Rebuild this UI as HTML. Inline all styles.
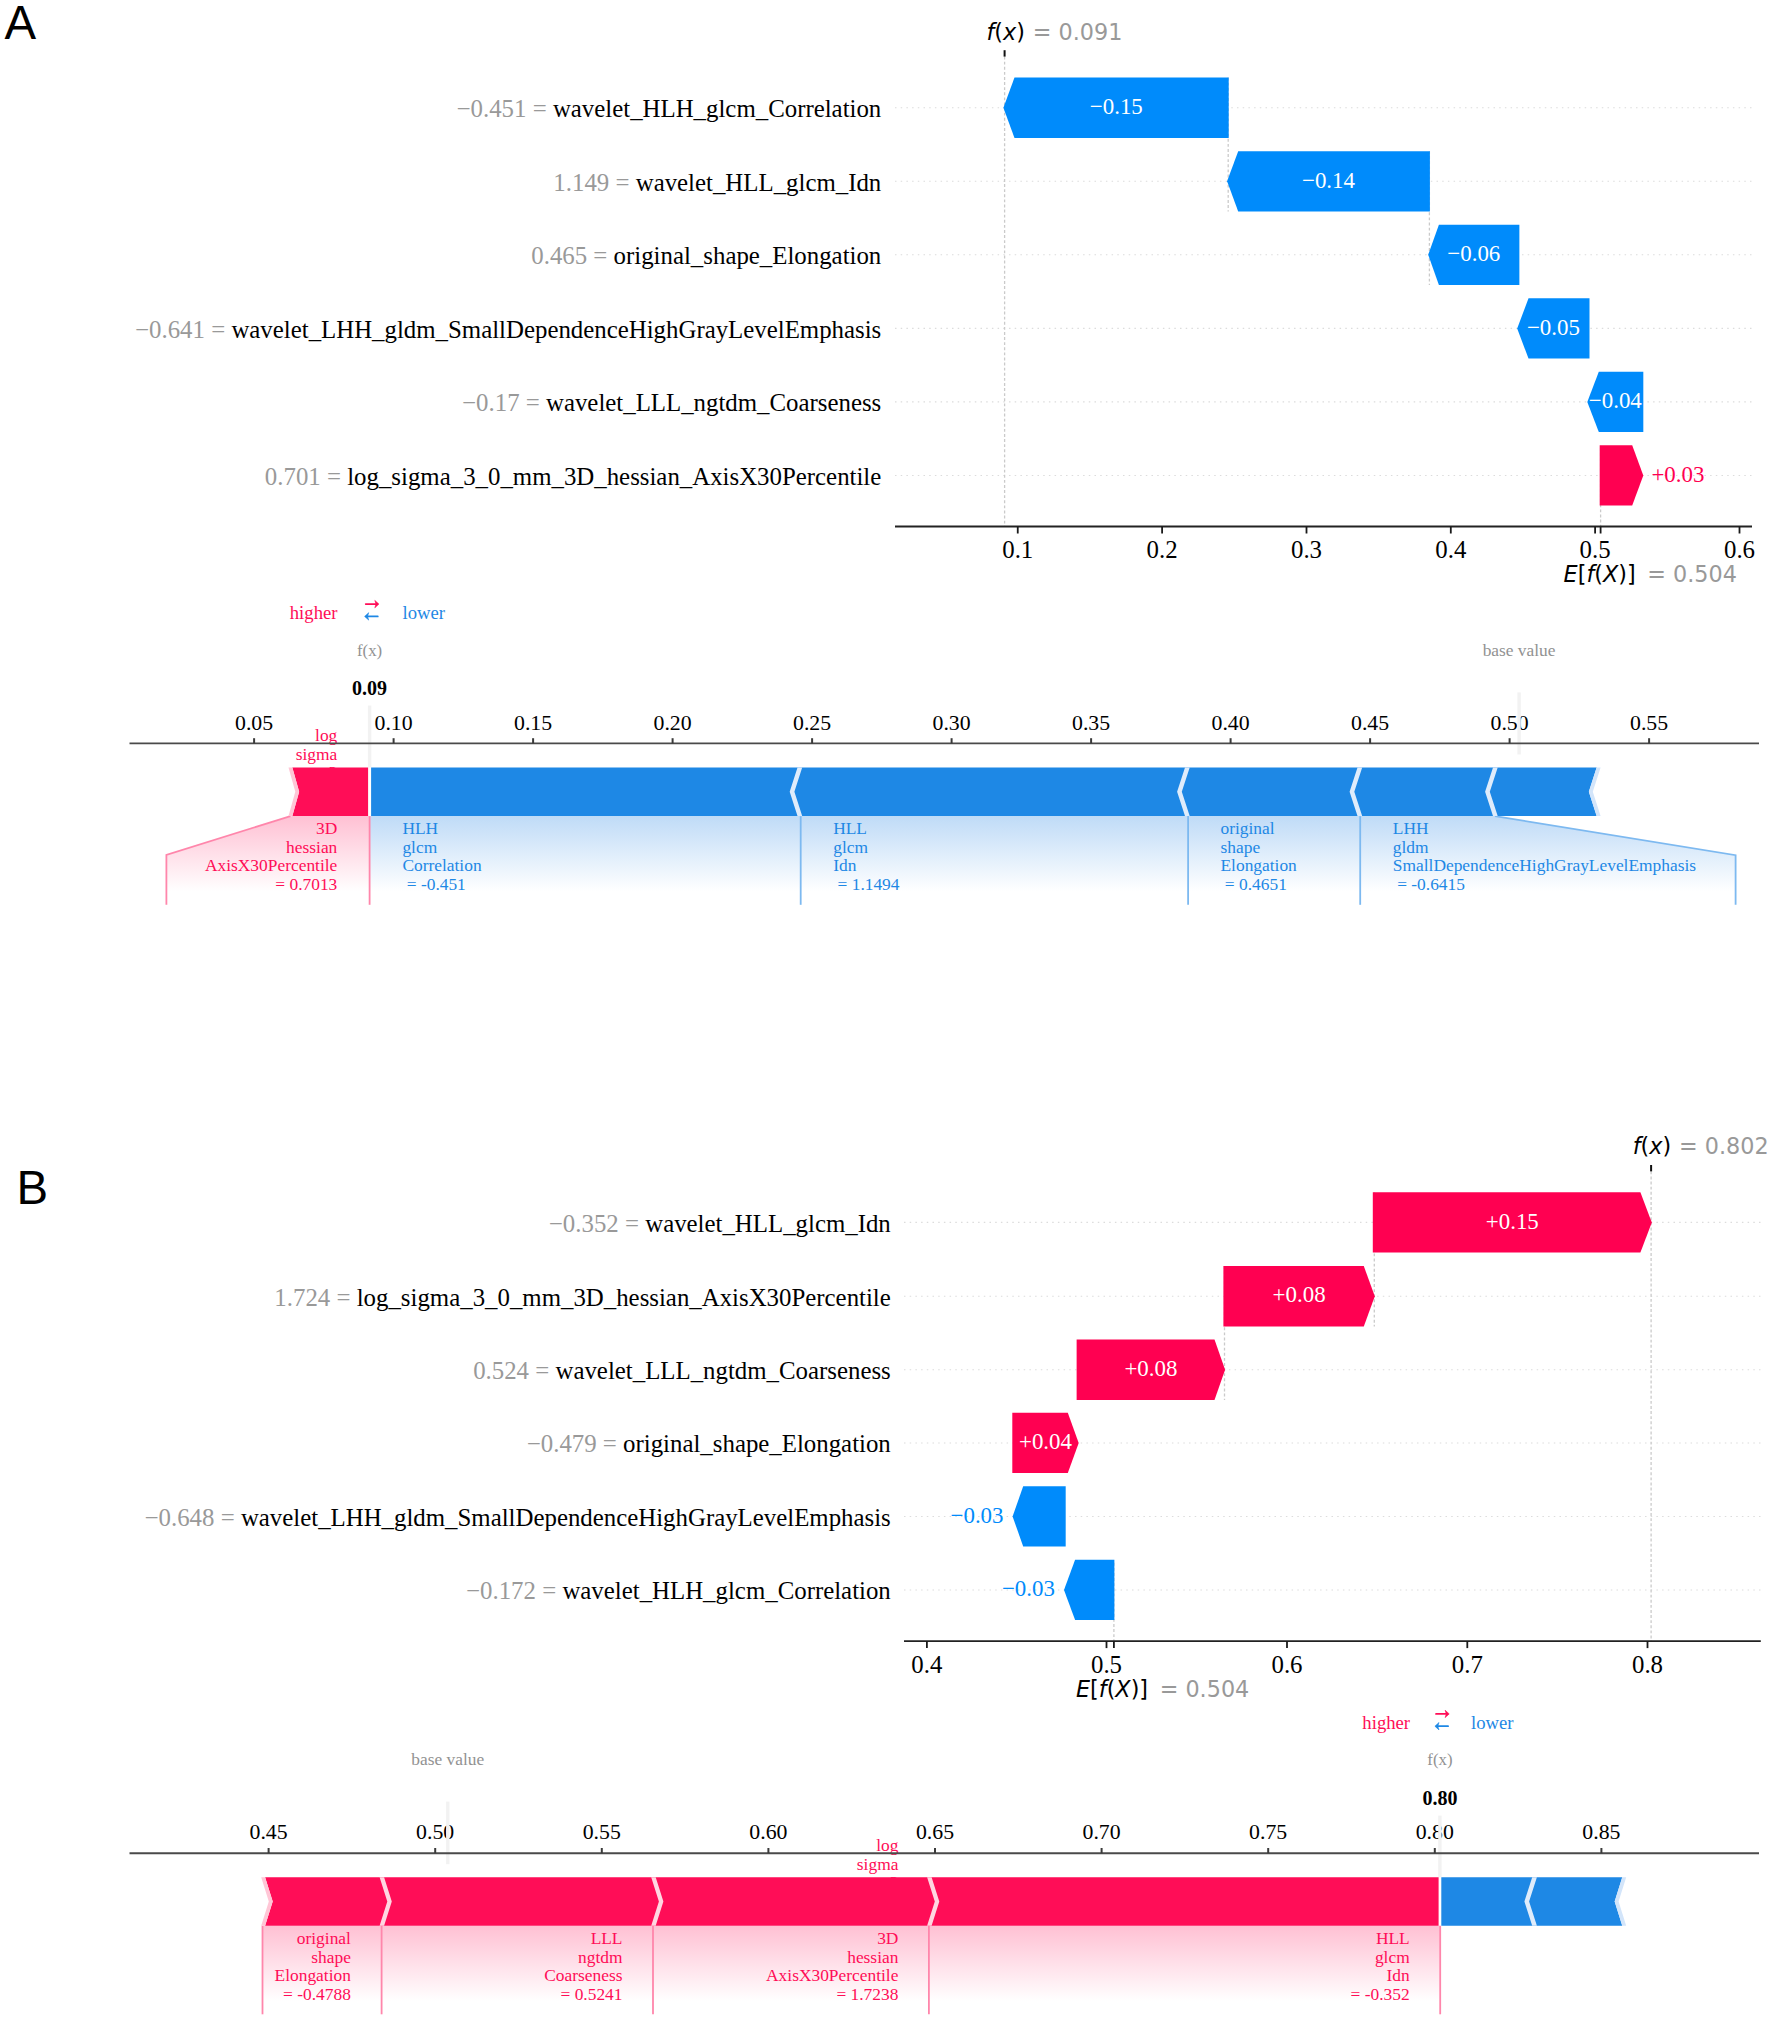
<!DOCTYPE html>
<html lang="en"><head><meta charset="utf-8"><title>SHAP waterfall and force plots</title>
<style>html,body{margin:0;padding:0;background:#fff}svg{display:block}</style></head><body>
<svg width="1772" height="2022" viewBox="0 0 1772 2022" font-family="'Liberation Serif', 'Times New Roman', serif">
<rect width="1772" height="2022" fill="#fff"/>
<text x="4.6" y="38.9" font-size="47.4" fill="#000" font-family="'Liberation Sans', Arial, sans-serif">A</text>
<text x="16.5" y="1203.8" font-size="47.4" fill="#000" font-family="'Liberation Sans', Arial, sans-serif">B</text>
<g id="waterfall-a">
<line x1="895" y1="107.75" x2="1752" y2="107.75" stroke="#dcdcdc" stroke-width="1.1" stroke-dasharray="1.5 4.2"/>
<line x1="895" y1="181.3" x2="1752" y2="181.3" stroke="#dcdcdc" stroke-width="1.1" stroke-dasharray="1.5 4.2"/>
<line x1="895" y1="254.8" x2="1752" y2="254.8" stroke="#dcdcdc" stroke-width="1.1" stroke-dasharray="1.5 4.2"/>
<line x1="895" y1="328.4" x2="1752" y2="328.4" stroke="#dcdcdc" stroke-width="1.1" stroke-dasharray="1.5 4.2"/>
<line x1="895" y1="401.9" x2="1752" y2="401.9" stroke="#dcdcdc" stroke-width="1.1" stroke-dasharray="1.5 4.2"/>
<line x1="895" y1="475.45" x2="1752" y2="475.45" stroke="#dcdcdc" stroke-width="1.1" stroke-dasharray="1.5 4.2"/>
<line x1="1004.6" y1="56.6" x2="1004.6" y2="526.5" stroke="#cacaca" stroke-width="1.3" stroke-dasharray="2.9 2.2"/>
<line x1="1600.6" y1="448.18" x2="1600.6" y2="526.5" stroke="#cacaca" stroke-width="1.3" stroke-dasharray="2.9 2.2"/>
<line x1="1228.2" y1="77.6" x2="1228.2" y2="211.45" stroke="#cacaca" stroke-width="1.3" stroke-dasharray="2.9 2.2"/>
<line x1="1429.4" y1="151.15" x2="1429.4" y2="284.95" stroke="#cacaca" stroke-width="1.3" stroke-dasharray="2.9 2.2"/>
<polygon points="1003.4,107.75 1014.5,77.6 1228.7,77.6 1228.7,137.9 1014.5,137.9" fill="#008BFB"/>
<text x="1116.3" y="113.95" font-size="22.9" fill="#fff" text-anchor="middle">−0.15</text>
<text x="881.3" y="117.05" font-size="24.85" fill="#000" text-anchor="end"><tspan fill="#999999">−0.451 = </tspan>wavelet_HLH_glcm_Correlation</text>
<polygon points="1227.1,181.3 1238.2,151.15 1429.9,151.15 1429.9,211.45 1238.2,211.45" fill="#008BFB"/>
<text x="1328.5" y="187.5" font-size="22.9" fill="#fff" text-anchor="middle">−0.14</text>
<text x="881.3" y="190.6" font-size="24.85" fill="#000" text-anchor="end"><tspan fill="#999999">1.149 = </tspan>wavelet_HLL_glcm_Idn</text>
<polygon points="1428.2,254.8 1438.9,224.65 1519.4,224.65 1519.4,284.95 1438.9,284.95" fill="#008BFB"/>
<text x="1473.8" y="261" font-size="22.9" fill="#fff" text-anchor="middle">−0.06</text>
<text x="881.3" y="264.1" font-size="24.85" fill="#000" text-anchor="end"><tspan fill="#999999">0.465 = </tspan>original_shape_Elongation</text>
<polygon points="1517.2,328.4 1528.5,298.25 1589.5,298.25 1589.5,358.55 1528.5,358.55" fill="#008BFB"/>
<text x="1553.4" y="334.6" font-size="22.9" fill="#fff" text-anchor="middle">−0.05</text>
<text x="881.3" y="337.7" font-size="24.85" fill="#000" text-anchor="end"><tspan fill="#999999">−0.641 = </tspan>wavelet_LHH_gldm_SmallDependenceHighGrayLevelEmphasis</text>
<polygon points="1587.3,401.9 1598.8,371.75 1643.3,371.75 1643.3,432.05 1598.8,432.05" fill="#008BFB"/>
<text x="1615.3" y="408.1" font-size="22.9" fill="#fff" text-anchor="middle">−0.04</text>
<text x="881.3" y="411.2" font-size="24.85" fill="#000" text-anchor="end"><tspan fill="#999999">−0.17 = </tspan>wavelet_LLL_ngtdm_Coarseness</text>
<polygon points="1599.7,445.3 1632.2,445.3 1643.3,475.45 1632.2,505.6 1599.7,505.6" fill="#FF0051"/>
<text x="1651.4" y="481.65" font-size="22.9" fill="#FF0051">+0.03</text>
<text x="881.3" y="484.75" font-size="24.85" fill="#000" text-anchor="end"><tspan fill="#999999">0.701 = </tspan>log_sigma_3_0_mm_3D_hessian_AxisX30Percentile</text>
<line x1="895" y1="526.5" x2="1752" y2="526.5" stroke="#222" stroke-width="1.9"/>
<line x1="1017.75" y1="526.5" x2="1017.75" y2="533.5" stroke="#1a1a1a" stroke-width="1.8"/>
<text x="1017.75" y="557.8" font-size="24.85" fill="#000" text-anchor="middle">0.1</text>
<line x1="1162.1" y1="526.5" x2="1162.1" y2="533.5" stroke="#1a1a1a" stroke-width="1.8"/>
<text x="1162.1" y="557.8" font-size="24.85" fill="#000" text-anchor="middle">0.2</text>
<line x1="1306.5" y1="526.5" x2="1306.5" y2="533.5" stroke="#1a1a1a" stroke-width="1.8"/>
<text x="1306.5" y="557.8" font-size="24.85" fill="#000" text-anchor="middle">0.3</text>
<line x1="1450.8" y1="526.5" x2="1450.8" y2="533.5" stroke="#1a1a1a" stroke-width="1.8"/>
<text x="1450.8" y="557.8" font-size="24.85" fill="#000" text-anchor="middle">0.4</text>
<line x1="1595.1" y1="526.5" x2="1595.1" y2="533.5" stroke="#1a1a1a" stroke-width="1.8"/>
<text x="1595.1" y="557.8" font-size="24.85" fill="#000" text-anchor="middle">0.5</text>
<line x1="1739.5" y1="526.5" x2="1739.5" y2="533.5" stroke="#1a1a1a" stroke-width="1.8"/>
<text x="1739.5" y="557.8" font-size="24.85" fill="#000" text-anchor="middle">0.6</text>
<line x1="1600.6" y1="526.5" x2="1600.6" y2="533.5" stroke="#1a1a1a" stroke-width="1.8"/>
<text x="1563.6" y="581.6" font-size="22.3" fill="#000" font-family="'DejaVu Sans', 'Liberation Sans', sans-serif"><tspan font-style="italic">E</tspan>[<tspan font-style="italic">f</tspan>(<tspan font-style="italic">X</tspan>)]<tspan fill="#999999" dx="11.61">= 0.504</tspan></text>
<line x1="1004.6" y1="56.6" x2="1004.6" y2="50.2" stroke="#111" stroke-width="2"/>
<text x="986.5" y="39.5" font-size="22.3" fill="#000" font-family="'DejaVu Sans', 'Liberation Sans', sans-serif"><tspan font-style="italic">f</tspan>(<tspan font-style="italic">x</tspan>)<tspan fill="#999999" dx="7.8">= 0.091</tspan></text>
</g>
<g id="force-a">
<defs><linearGradient id="grA" x1="0" y1="0" x2="0" y2="1"><stop offset="0" stop-color="#FFC0D3"/><stop offset="0.85" stop-color="#fff"/><stop offset="1" stop-color="#fff"/></linearGradient><linearGradient id="gbA" x1="0" y1="0" x2="0" y2="1"><stop offset="0" stop-color="#BFDBF7"/><stop offset="0.85" stop-color="#fff"/><stop offset="1" stop-color="#fff"/></linearGradient></defs>
<polygon points="292.2,816.1 166.4,854.9 166.4,904.8 369.6,904.8 369.6,816.1" fill="url(#grA)"/>
<polygon points="369.6,816.1 1495,816.1 1735.6,855.2 1735.6,904.8 369.6,904.8" fill="url(#gbA)"/>
<polyline points="290.5,816.1 166.4,854.9 166.4,904.8" fill="none" stroke="#FF86AB" stroke-width="1.8"/>
<polyline points="800.7,816.1 800.7,904.8" fill="none" stroke="#7DB9F0" stroke-width="1.8"/>
<polyline points="1188.1,816.1 1188.1,904.8" fill="none" stroke="#7DB9F0" stroke-width="1.8"/>
<polyline points="1360.2,816.1 1360.2,904.8" fill="none" stroke="#7DB9F0" stroke-width="1.8"/>
<polyline points="1495,816.1 1735.6,855.2 1735.6,904.8" fill="none" stroke="#7DB9F0" stroke-width="1.8"/>
<polyline points="369.6,816.1 369.6,904.8" fill="none" stroke="#FF86AB" stroke-width="1.8"/>
<text x="337.3" y="741.1" font-size="17.4" fill="#FF0D57" text-anchor="end" xml:space="preserve" style="white-space:pre">log</text>
<text x="337.3" y="759.7" font-size="17.4" fill="#FF0D57" text-anchor="end" xml:space="preserve" style="white-space:pre">sigma</text>
<text x="337.3" y="778.3" font-size="17.4" fill="#FF0D57" text-anchor="end" xml:space="preserve" style="white-space:pre">3</text>
<text x="337.3" y="796.9" font-size="17.4" fill="#FF0D57" text-anchor="end" xml:space="preserve" style="white-space:pre">0</text>
<text x="337.3" y="815.5" font-size="17.4" fill="#FF0D57" text-anchor="end" xml:space="preserve" style="white-space:pre">mm</text>
<text x="337.3" y="834.1" font-size="17.4" fill="#FF0D57" text-anchor="end" xml:space="preserve" style="white-space:pre">3D</text>
<text x="337.3" y="852.7" font-size="17.4" fill="#FF0D57" text-anchor="end" xml:space="preserve" style="white-space:pre">hessian</text>
<text x="337.3" y="871.3" font-size="17.4" fill="#FF0D57" text-anchor="end" xml:space="preserve" style="white-space:pre">AxisX30Percentile</text>
<text x="337.3" y="889.9" font-size="17.4" fill="#FF0D57" text-anchor="end" xml:space="preserve" style="white-space:pre">= 0.7013</text>
<text x="402.4" y="815.5" font-size="17.4" fill="#1E88E5" xml:space="preserve" style="white-space:pre">wavelet</text>
<text x="402.4" y="834.1" font-size="17.4" fill="#1E88E5" xml:space="preserve" style="white-space:pre">HLH</text>
<text x="402.4" y="852.7" font-size="17.4" fill="#1E88E5" xml:space="preserve" style="white-space:pre">glcm</text>
<text x="402.4" y="871.3" font-size="17.4" fill="#1E88E5" xml:space="preserve" style="white-space:pre">Correlation</text>
<text x="402.4" y="889.9" font-size="17.4" fill="#1E88E5" xml:space="preserve" style="white-space:pre"> = -0.451</text>
<text x="833.2" y="815.5" font-size="17.4" fill="#1E88E5" xml:space="preserve" style="white-space:pre">wavelet</text>
<text x="833.2" y="834.1" font-size="17.4" fill="#1E88E5" xml:space="preserve" style="white-space:pre">HLL</text>
<text x="833.2" y="852.7" font-size="17.4" fill="#1E88E5" xml:space="preserve" style="white-space:pre">glcm</text>
<text x="833.2" y="871.3" font-size="17.4" fill="#1E88E5" xml:space="preserve" style="white-space:pre">Idn</text>
<text x="833.2" y="889.9" font-size="17.4" fill="#1E88E5" xml:space="preserve" style="white-space:pre"> = 1.1494</text>
<text x="1220.5" y="834.1" font-size="17.4" fill="#1E88E5" xml:space="preserve" style="white-space:pre">original</text>
<text x="1220.5" y="852.7" font-size="17.4" fill="#1E88E5" xml:space="preserve" style="white-space:pre">shape</text>
<text x="1220.5" y="871.3" font-size="17.4" fill="#1E88E5" xml:space="preserve" style="white-space:pre">Elongation</text>
<text x="1220.5" y="889.9" font-size="17.4" fill="#1E88E5" xml:space="preserve" style="white-space:pre"> = 0.4651</text>
<text x="1392.8" y="815.5" font-size="17.4" fill="#1E88E5" xml:space="preserve" style="white-space:pre">wavelet</text>
<text x="1392.8" y="834.1" font-size="17.4" fill="#1E88E5" xml:space="preserve" style="white-space:pre">LHH</text>
<text x="1392.8" y="852.7" font-size="17.4" fill="#1E88E5" xml:space="preserve" style="white-space:pre">gldm</text>
<text x="1392.8" y="871.3" font-size="17.4" fill="#1E88E5" xml:space="preserve" style="white-space:pre">SmallDependenceHighGrayLevelEmphasis</text>
<text x="1392.8" y="889.9" font-size="17.4" fill="#1E88E5" xml:space="preserve" style="white-space:pre"> = -0.6415</text>
<text x="254.1" y="729.6" font-size="21.8" fill="#000" text-anchor="middle">0.05</text>
<text x="393.6" y="729.6" font-size="21.8" fill="#000" text-anchor="middle">0.10</text>
<text x="533.1" y="729.6" font-size="21.8" fill="#000" text-anchor="middle">0.15</text>
<text x="672.6" y="729.6" font-size="21.8" fill="#000" text-anchor="middle">0.20</text>
<text x="812.1" y="729.6" font-size="21.8" fill="#000" text-anchor="middle">0.25</text>
<text x="951.6" y="729.6" font-size="21.8" fill="#000" text-anchor="middle">0.30</text>
<text x="1091.1" y="729.6" font-size="21.8" fill="#000" text-anchor="middle">0.35</text>
<text x="1230.6" y="729.6" font-size="21.8" fill="#000" text-anchor="middle">0.40</text>
<text x="1370.1" y="729.6" font-size="21.8" fill="#000" text-anchor="middle">0.45</text>
<text x="1509.6" y="729.6" font-size="21.8" fill="#000" text-anchor="middle">0.50</text>
<text x="1649.1" y="729.6" font-size="21.8" fill="#000" text-anchor="middle">0.55</text>
<line x1="369.6" y1="705.5" x2="369.6" y2="767.5" stroke="#f2f2f2" stroke-width="3.4"/>
<line x1="1519.1" y1="692.4" x2="1519.1" y2="754.5" stroke="#f2f2f2" stroke-width="3.4"/>
<line x1="129.5" y1="743.4" x2="1759" y2="743.4" stroke="#4a4a4a" stroke-width="1.9"/>
<line x1="254.1" y1="743.4" x2="254.1" y2="738.2" stroke="#3a3a3a" stroke-width="2"/>
<line x1="393.6" y1="743.4" x2="393.6" y2="738.2" stroke="#3a3a3a" stroke-width="2"/>
<line x1="533.1" y1="743.4" x2="533.1" y2="738.2" stroke="#3a3a3a" stroke-width="2"/>
<line x1="672.6" y1="743.4" x2="672.6" y2="738.2" stroke="#3a3a3a" stroke-width="2"/>
<line x1="812.1" y1="743.4" x2="812.1" y2="738.2" stroke="#3a3a3a" stroke-width="2"/>
<line x1="951.6" y1="743.4" x2="951.6" y2="738.2" stroke="#3a3a3a" stroke-width="2"/>
<line x1="1091.1" y1="743.4" x2="1091.1" y2="738.2" stroke="#3a3a3a" stroke-width="2"/>
<line x1="1230.6" y1="743.4" x2="1230.6" y2="738.2" stroke="#3a3a3a" stroke-width="2"/>
<line x1="1370.1" y1="743.4" x2="1370.1" y2="738.2" stroke="#3a3a3a" stroke-width="2"/>
<line x1="1509.6" y1="743.4" x2="1509.6" y2="738.2" stroke="#3a3a3a" stroke-width="2"/>
<line x1="1649.1" y1="743.4" x2="1649.1" y2="738.2" stroke="#3a3a3a" stroke-width="2"/>
<polygon points="292.3,767.5 368.1,767.5 368.1,816.1 292.3,816.1 299.1,791.8" fill="#FF0D57"/>
<polygon points="371.1,767.5 1596.7,767.5 1588.9,791.8 1596.7,816.1 371.1,816.1" fill="#1E88E5"/>
<polygon points="288.5,767.5 292.4,767.5 299.2,791.8 292.4,816.1 288.5,816.1 295.3,791.8" fill="#FFC6D6"/>
<polygon points="797.5,767.5 802.2,767.5 794.4,791.8 802.2,816.1 797.5,816.1 789.7,791.8" fill="#DFECFB"/>
<polygon points="1185,767.5 1189.7,767.5 1181.8,791.8 1189.7,816.1 1185,816.1 1177.1,791.8" fill="#DFECFB"/>
<polygon points="1357.5,767.5 1362.2,767.5 1354.3,791.8 1362.2,816.1 1357.5,816.1 1349.6,791.8" fill="#DFECFB"/>
<polygon points="1493,767.5 1497.7,767.5 1489.8,791.8 1497.7,816.1 1493,816.1 1485.1,791.8" fill="#DFECFB"/>
<polygon points="1596.6,767.5 1600.6,767.5 1592.8,791.8 1600.6,816.1 1596.6,816.1 1588.8,791.8" fill="#D3E5FA"/>
<text x="369.6" y="694.8" font-size="20" fill="#000" text-anchor="middle" font-weight="bold">0.09</text>
<text x="369.6" y="655.5" font-size="16.8" fill="#929292" text-anchor="middle">f(x)</text>
<text x="1519.1" y="655.5" font-size="17.4" fill="#929292" text-anchor="middle">base value</text>
<text x="337.5" y="619.2" font-size="18.7" fill="#FF0D57" text-anchor="end">higher</text>
<text x="402.5" y="619.2" font-size="18.7" fill="#1E88E5">lower</text>
<path d="M365.7 604.1H376.4" fill="none" stroke="#FF0D57" stroke-width="1.7" stroke-linecap="round"/>
<polygon points="378.9,604.1 374.8,600.4 376,604.1 374.8,607.8" fill="#FF0D57" stroke="#FF0D57" stroke-width="0.6" stroke-linejoin="round"/>
<path d="M377.8 616.4H367.1" fill="none" stroke="#1E88E5" stroke-width="1.7" stroke-linecap="round"/>
<polygon points="364.6,616.4 368.7,612.7 367.5,616.4 368.7,620.1" fill="#1E88E5" stroke="#1E88E5" stroke-width="0.6" stroke-linejoin="round"/>
</g>
<g id="waterfall-b">
<line x1="904" y1="1222.4" x2="1760.8" y2="1222.4" stroke="#dcdcdc" stroke-width="1.1" stroke-dasharray="1.5 4.2"/>
<line x1="904" y1="1296.25" x2="1760.8" y2="1296.25" stroke="#dcdcdc" stroke-width="1.1" stroke-dasharray="1.5 4.2"/>
<line x1="904" y1="1369.75" x2="1760.8" y2="1369.75" stroke="#dcdcdc" stroke-width="1.1" stroke-dasharray="1.5 4.2"/>
<line x1="904" y1="1442.95" x2="1760.8" y2="1442.95" stroke="#dcdcdc" stroke-width="1.1" stroke-dasharray="1.5 4.2"/>
<line x1="904" y1="1516.45" x2="1760.8" y2="1516.45" stroke="#dcdcdc" stroke-width="1.1" stroke-dasharray="1.5 4.2"/>
<line x1="904" y1="1589.95" x2="1760.8" y2="1589.95" stroke="#dcdcdc" stroke-width="1.1" stroke-dasharray="1.5 4.2"/>
<line x1="1651.1" y1="1171.4" x2="1651.1" y2="1641.1" stroke="#cacaca" stroke-width="1.3" stroke-dasharray="2.9 2.2"/>
<line x1="1113.9" y1="1562.82" x2="1113.9" y2="1641.1" stroke="#cacaca" stroke-width="1.3" stroke-dasharray="2.9 2.2"/>
<line x1="1374.3" y1="1192.25" x2="1374.3" y2="1326.4" stroke="#cacaca" stroke-width="1.3" stroke-dasharray="2.9 2.2"/>
<line x1="1224.5" y1="1266.1" x2="1224.5" y2="1399.9" stroke="#cacaca" stroke-width="1.3" stroke-dasharray="2.9 2.2"/>
<polygon points="1372.8,1192.25 1640.4,1192.25 1651.8,1222.4 1640.4,1252.55 1372.8,1252.55" fill="#FF0051"/>
<text x="1512.3" y="1228.6" font-size="22.9" fill="#fff" text-anchor="middle">+0.15</text>
<text x="890.8" y="1231.7" font-size="24.85" fill="#000" text-anchor="end"><tspan fill="#999999">−0.352 = </tspan>wavelet_HLL_glcm_Idn</text>
<polygon points="1223.4,1266.1 1363.8,1266.1 1374.8,1296.25 1363.8,1326.4 1223.4,1326.4" fill="#FF0051"/>
<text x="1299.1" y="1302.45" font-size="22.9" fill="#fff" text-anchor="middle">+0.08</text>
<text x="890.8" y="1305.55" font-size="24.85" fill="#000" text-anchor="end"><tspan fill="#999999">1.724 = </tspan>log_sigma_3_0_mm_3D_hessian_AxisX30Percentile</text>
<polygon points="1076.6,1339.6 1214.5,1339.6 1225.1,1369.75 1214.5,1399.9 1076.6,1399.9" fill="#FF0051"/>
<text x="1150.9" y="1375.95" font-size="22.9" fill="#fff" text-anchor="middle">+0.08</text>
<text x="890.8" y="1379.05" font-size="24.85" fill="#000" text-anchor="end"><tspan fill="#999999">0.524 = </tspan>wavelet_LLL_ngtdm_Coarseness</text>
<polygon points="1012.3,1412.8 1067.8,1412.8 1078.7,1442.95 1067.8,1473.1 1012.3,1473.1" fill="#FF0051"/>
<text x="1045.5" y="1449.15" font-size="22.9" fill="#fff" text-anchor="middle">+0.04</text>
<text x="890.8" y="1452.25" font-size="24.85" fill="#000" text-anchor="end"><tspan fill="#999999">−0.479 = </tspan>original_shape_Elongation</text>
<polygon points="1012.6,1516.45 1023.2,1486.3 1065.7,1486.3 1065.7,1546.6 1023.2,1546.6" fill="#008BFB"/>
<text x="1003.5" y="1522.65" font-size="22.9" fill="#008BFB" text-anchor="end">−0.03</text>
<text x="890.8" y="1525.75" font-size="24.85" fill="#000" text-anchor="end"><tspan fill="#999999">−0.648 = </tspan>wavelet_LHH_gldm_SmallDependenceHighGrayLevelEmphasis</text>
<polygon points="1064,1589.95 1075.1,1559.8 1114.4,1559.8 1114.4,1620.1 1075.1,1620.1" fill="#008BFB"/>
<text x="1054.9" y="1596.15" font-size="22.9" fill="#008BFB" text-anchor="end">−0.03</text>
<text x="890.8" y="1599.25" font-size="24.85" fill="#000" text-anchor="end"><tspan fill="#999999">−0.172 = </tspan>wavelet_HLH_glcm_Correlation</text>
<line x1="904" y1="1641.1" x2="1760.8" y2="1641.1" stroke="#222" stroke-width="1.9"/>
<line x1="926.9" y1="1641.1" x2="926.9" y2="1648.1" stroke="#1a1a1a" stroke-width="1.8"/>
<text x="926.9" y="1673.2" font-size="24.85" fill="#000" text-anchor="middle">0.4</text>
<line x1="1106.5" y1="1641.1" x2="1106.5" y2="1648.1" stroke="#1a1a1a" stroke-width="1.8"/>
<text x="1106.5" y="1673.2" font-size="24.85" fill="#000" text-anchor="middle">0.5</text>
<line x1="1287" y1="1641.1" x2="1287" y2="1648.1" stroke="#1a1a1a" stroke-width="1.8"/>
<text x="1287" y="1673.2" font-size="24.85" fill="#000" text-anchor="middle">0.6</text>
<line x1="1467.3" y1="1641.1" x2="1467.3" y2="1648.1" stroke="#1a1a1a" stroke-width="1.8"/>
<text x="1467.3" y="1673.2" font-size="24.85" fill="#000" text-anchor="middle">0.7</text>
<line x1="1647.5" y1="1641.1" x2="1647.5" y2="1648.1" stroke="#1a1a1a" stroke-width="1.8"/>
<text x="1647.5" y="1673.2" font-size="24.85" fill="#000" text-anchor="middle">0.8</text>
<line x1="1113.9" y1="1641.1" x2="1113.9" y2="1648.1" stroke="#1a1a1a" stroke-width="1.8"/>
<text x="1076" y="1696.9" font-size="22.3" fill="#000" font-family="'DejaVu Sans', 'Liberation Sans', sans-serif"><tspan font-style="italic">E</tspan>[<tspan font-style="italic">f</tspan>(<tspan font-style="italic">X</tspan>)]<tspan fill="#999999" dx="11.61">= 0.504</tspan></text>
<line x1="1651.1" y1="1171.4" x2="1651.1" y2="1165" stroke="#111" stroke-width="2"/>
<text x="1632.7" y="1154.4" font-size="22.3" fill="#000" font-family="'DejaVu Sans', 'Liberation Sans', sans-serif"><tspan font-style="italic">f</tspan>(<tspan font-style="italic">x</tspan>)<tspan fill="#999999" dx="7.8">= 0.802</tspan></text>
</g>
<g id="force-b">
<defs><linearGradient id="grB" x1="0" y1="0" x2="0" y2="1"><stop offset="0" stop-color="#FFC0D3"/><stop offset="0.85" stop-color="#fff"/><stop offset="1" stop-color="#fff"/></linearGradient><linearGradient id="gbB" x1="0" y1="0" x2="0" y2="1"><stop offset="0" stop-color="#BFDBF7"/><stop offset="0.85" stop-color="#fff"/><stop offset="1" stop-color="#fff"/></linearGradient></defs>
<polygon points="262.5,1925.8 1440.2,1925.8 1440.2,2014.3 262.5,2014.3" fill="url(#grB)"/>
<polyline points="262.5,1925.8 262.5,2014.3" fill="none" stroke="#FF86AB" stroke-width="1.8"/>
<polyline points="381.6,1925.8 381.6,2014.3" fill="none" stroke="#FF86AB" stroke-width="1.8"/>
<polyline points="653,1925.8 653,2014.3" fill="none" stroke="#FF86AB" stroke-width="1.8"/>
<polyline points="928.9,1925.8 928.9,2014.3" fill="none" stroke="#FF86AB" stroke-width="1.8"/>
<polyline points="1440.2,1925.8 1440.2,2014.3" fill="none" stroke="#FF86AB" stroke-width="1.8"/>
<text x="350.9" y="1943.9" font-size="17.4" fill="#FF0D57" text-anchor="end" xml:space="preserve" style="white-space:pre">original</text>
<text x="350.9" y="1962.5" font-size="17.4" fill="#FF0D57" text-anchor="end" xml:space="preserve" style="white-space:pre">shape</text>
<text x="350.9" y="1981.1" font-size="17.4" fill="#FF0D57" text-anchor="end" xml:space="preserve" style="white-space:pre">Elongation</text>
<text x="350.9" y="1999.7" font-size="17.4" fill="#FF0D57" text-anchor="end" xml:space="preserve" style="white-space:pre">= -0.4788</text>
<text x="622.5" y="1925.3" font-size="17.4" fill="#FF0D57" text-anchor="end" xml:space="preserve" style="white-space:pre">wavelet</text>
<text x="622.5" y="1943.9" font-size="17.4" fill="#FF0D57" text-anchor="end" xml:space="preserve" style="white-space:pre">LLL</text>
<text x="622.5" y="1962.5" font-size="17.4" fill="#FF0D57" text-anchor="end" xml:space="preserve" style="white-space:pre">ngtdm</text>
<text x="622.5" y="1981.1" font-size="17.4" fill="#FF0D57" text-anchor="end" xml:space="preserve" style="white-space:pre">Coarseness</text>
<text x="622.5" y="1999.7" font-size="17.4" fill="#FF0D57" text-anchor="end" xml:space="preserve" style="white-space:pre">= 0.5241</text>
<text x="898.4" y="1850.9" font-size="17.4" fill="#FF0D57" text-anchor="end" xml:space="preserve" style="white-space:pre">log</text>
<text x="898.4" y="1869.5" font-size="17.4" fill="#FF0D57" text-anchor="end" xml:space="preserve" style="white-space:pre">sigma</text>
<text x="898.4" y="1888.1" font-size="17.4" fill="#FF0D57" text-anchor="end" xml:space="preserve" style="white-space:pre">3</text>
<text x="898.4" y="1906.7" font-size="17.4" fill="#FF0D57" text-anchor="end" xml:space="preserve" style="white-space:pre">0</text>
<text x="898.4" y="1925.3" font-size="17.4" fill="#FF0D57" text-anchor="end" xml:space="preserve" style="white-space:pre">mm</text>
<text x="898.4" y="1943.9" font-size="17.4" fill="#FF0D57" text-anchor="end" xml:space="preserve" style="white-space:pre">3D</text>
<text x="898.4" y="1962.5" font-size="17.4" fill="#FF0D57" text-anchor="end" xml:space="preserve" style="white-space:pre">hessian</text>
<text x="898.4" y="1981.1" font-size="17.4" fill="#FF0D57" text-anchor="end" xml:space="preserve" style="white-space:pre">AxisX30Percentile</text>
<text x="898.4" y="1999.7" font-size="17.4" fill="#FF0D57" text-anchor="end" xml:space="preserve" style="white-space:pre">= 1.7238</text>
<text x="1409.7" y="1925.3" font-size="17.4" fill="#FF0D57" text-anchor="end" xml:space="preserve" style="white-space:pre">wavelet</text>
<text x="1409.7" y="1943.9" font-size="17.4" fill="#FF0D57" text-anchor="end" xml:space="preserve" style="white-space:pre">HLL</text>
<text x="1409.7" y="1962.5" font-size="17.4" fill="#FF0D57" text-anchor="end" xml:space="preserve" style="white-space:pre">glcm</text>
<text x="1409.7" y="1981.1" font-size="17.4" fill="#FF0D57" text-anchor="end" xml:space="preserve" style="white-space:pre">Idn</text>
<text x="1409.7" y="1999.7" font-size="17.4" fill="#FF0D57" text-anchor="end" xml:space="preserve" style="white-space:pre">= -0.352</text>
<text x="268.6" y="1838.7" font-size="21.8" fill="#000" text-anchor="middle">0.45</text>
<text x="435.2" y="1838.7" font-size="21.8" fill="#000" text-anchor="middle">0.50</text>
<text x="601.8" y="1838.7" font-size="21.8" fill="#000" text-anchor="middle">0.55</text>
<text x="768.4" y="1838.7" font-size="21.8" fill="#000" text-anchor="middle">0.60</text>
<text x="935" y="1838.7" font-size="21.8" fill="#000" text-anchor="middle">0.65</text>
<text x="1101.6" y="1838.7" font-size="21.8" fill="#000" text-anchor="middle">0.70</text>
<text x="1268.2" y="1838.7" font-size="21.8" fill="#000" text-anchor="middle">0.75</text>
<text x="1434.8" y="1838.7" font-size="21.8" fill="#000" text-anchor="middle">0.80</text>
<text x="1601.4" y="1838.7" font-size="21.8" fill="#000" text-anchor="middle">0.85</text>
<line x1="447.8" y1="1801.6" x2="447.8" y2="1864.2" stroke="#f2f2f2" stroke-width="3.4"/>
<line x1="1439.9" y1="1815.6" x2="1439.9" y2="1877.2" stroke="#f2f2f2" stroke-width="3.4"/>
<line x1="129.5" y1="1853.2" x2="1759" y2="1853.2" stroke="#4a4a4a" stroke-width="1.9"/>
<line x1="268.6" y1="1853.2" x2="268.6" y2="1848" stroke="#3a3a3a" stroke-width="2"/>
<line x1="435.2" y1="1853.2" x2="435.2" y2="1848" stroke="#3a3a3a" stroke-width="2"/>
<line x1="601.8" y1="1853.2" x2="601.8" y2="1848" stroke="#3a3a3a" stroke-width="2"/>
<line x1="768.4" y1="1853.2" x2="768.4" y2="1848" stroke="#3a3a3a" stroke-width="2"/>
<line x1="935" y1="1853.2" x2="935" y2="1848" stroke="#3a3a3a" stroke-width="2"/>
<line x1="1101.6" y1="1853.2" x2="1101.6" y2="1848" stroke="#3a3a3a" stroke-width="2"/>
<line x1="1268.2" y1="1853.2" x2="1268.2" y2="1848" stroke="#3a3a3a" stroke-width="2"/>
<line x1="1434.8" y1="1853.2" x2="1434.8" y2="1848" stroke="#3a3a3a" stroke-width="2"/>
<line x1="1601.4" y1="1853.2" x2="1601.4" y2="1848" stroke="#3a3a3a" stroke-width="2"/>
<polygon points="265.1,1877.2 1438.6,1877.2 1438.6,1925.8 265.1,1925.8 272.7,1901.5" fill="#FF0D57"/>
<polygon points="1441.3,1877.2 1622.3,1877.2 1614.7,1901.5 1622.3,1925.8 1441.3,1925.8" fill="#1E88E5"/>
<polygon points="261.2,1877.2 265.1,1877.2 272.7,1901.5 265.1,1925.8 261.2,1925.8 268.8,1901.5" fill="#FFC6D6"/>
<polygon points="379.6,1877.2 384.1,1877.2 391.8,1901.5 384.1,1925.8 379.6,1925.8 387.3,1901.5" fill="#FFD6E1"/>
<polygon points="651.2,1877.2 655.7,1877.2 663.4,1901.5 655.7,1925.8 651.2,1925.8 658.9,1901.5" fill="#FFD6E1"/>
<polygon points="927.1,1877.2 931.6,1877.2 939.3,1901.5 931.6,1925.8 927.1,1925.8 934.8,1901.5" fill="#FFD6E1"/>
<polygon points="1532.2,1877.2 1536.9,1877.2 1529.1,1901.5 1536.9,1925.8 1532.2,1925.8 1524.4,1901.5" fill="#DFECFB"/>
<polygon points="1622.2,1877.2 1626.2,1877.2 1618.6,1901.5 1626.2,1925.8 1622.2,1925.8 1614.6,1901.5" fill="#D3E5FA"/>
<text x="1439.9" y="1804.8" font-size="20" fill="#000" text-anchor="middle" font-weight="bold">0.80</text>
<text x="1439.9" y="1765.2" font-size="16.8" fill="#929292" text-anchor="middle">f(x)</text>
<text x="447.8" y="1765.2" font-size="17.4" fill="#929292" text-anchor="middle">base value</text>
<text x="1410.1" y="1729" font-size="18.7" fill="#FF0D57" text-anchor="end">higher</text>
<text x="1471" y="1729" font-size="18.7" fill="#1E88E5">lower</text>
<path d="M1436 1713.9H1446.7" fill="none" stroke="#FF0D57" stroke-width="1.7" stroke-linecap="round"/>
<polygon points="1449.2,1713.9 1445.1,1710.2 1446.3,1713.9 1445.1,1717.6" fill="#FF0D57" stroke="#FF0D57" stroke-width="0.6" stroke-linejoin="round"/>
<path d="M1448.1 1726.2H1437.4" fill="none" stroke="#1E88E5" stroke-width="1.7" stroke-linecap="round"/>
<polygon points="1434.9,1726.2 1439,1722.5 1437.8,1726.2 1439,1729.9" fill="#1E88E5" stroke="#1E88E5" stroke-width="0.6" stroke-linejoin="round"/>
</g>
</svg></body></html>
